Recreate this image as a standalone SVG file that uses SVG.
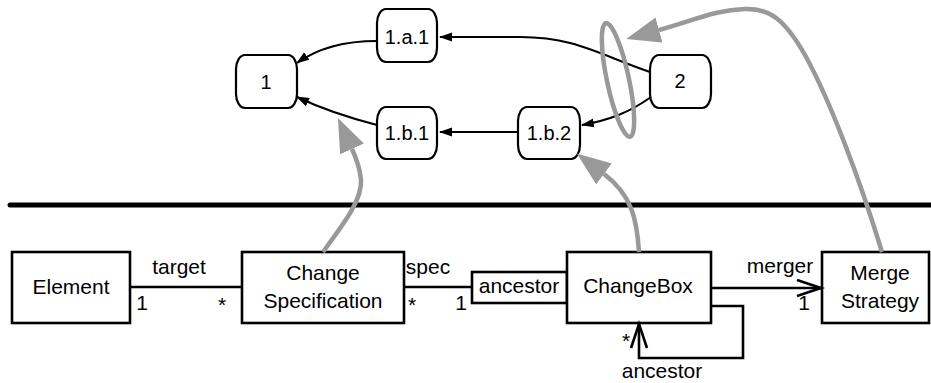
<svg xmlns="http://www.w3.org/2000/svg" width="931" height="383" viewBox="0 0 931 383">
<style>
text{font-family:"Liberation Sans",Arial,Helvetica,sans-serif;fill:#000}
.n text{font-size:20px;text-anchor:middle}
.n rect{fill:#fff;stroke:#000;stroke-width:2.2}
.u rect{fill:#fff;stroke:#000;stroke-width:2.6}
.u text,.lbl{font-size:21px}
.u text{text-anchor:middle}
.e{fill:none;stroke:#000;stroke-width:2;marker-end:url(#ah)}
.a{fill:none;stroke:#000;stroke-width:2.6}
.g{fill:none;stroke:#999;stroke-width:4.5}
.gm{marker-end:url(#gh)}
</style>
<defs>
<marker id="ah" markerUnits="userSpaceOnUse" markerWidth="13" markerHeight="10" viewBox="0 0 13 10" refX="12" refY="5" orient="auto">
<path d="M0,0.5 L13,5 L0,9.5 Z" fill="#000"/>
</marker>
<marker id="gh" markerUnits="userSpaceOnUse" markerWidth="34" markerHeight="26" viewBox="0 0 34 26" refX="0" refY="13" orient="auto">
<path d="M0,0 L34,13 L0,26 Z" fill="#999"/>
</marker>
</defs>

<g id="versions">
<g id="v1" class="n"><rect x="236" y="55" width="61" height="53" rx="9" ry="14"/><text x="266" y="89">1</text></g>
<g id="v1a1" class="n"><rect x="377" y="9" width="60" height="53" rx="9" ry="14"/><text x="407" y="44">1.a.1</text></g>
<g id="v1b1" class="n"><rect x="377" y="107" width="60" height="52" rx="9" ry="14"/><text x="407" y="140">1.b.1</text></g>
<g id="v1b2" class="n"><rect x="518" y="107" width="62" height="52" rx="9" ry="14"/><text x="549" y="140">1.b.2</text></g>
<g id="v2" class="n"><rect x="650" y="55" width="61" height="53" rx="9" ry="14"/><text x="680" y="88">2</text></g>
</g>

<g id="version-edges">
<path class="e" d="M377,41 C345,41 318,48 297,63"/>
<path class="e" d="M377,125 C350,118 320,108 297,97"/>
<path class="e" d="M518,132 L440,132"/>
<path class="e" d="M650,72 C600,55 575,37 520,37 L440,37"/>
<path class="e" d="M651,97 C630,112 610,120 582,125"/>
</g>

<g id="separator">
<line x1="10" y1="205" x2="931" y2="205" stroke="#000" stroke-width="5" stroke-linecap="round"/>
</g>

<g id="element" class="u"><rect x="12" y="252" width="118" height="71"/><text x="71" y="294">Element</text></g>
<g id="changespec" class="u"><rect x="242" y="252" width="162" height="71"/><text x="323" y="280">Change</text><text x="323" y="308">Specification</text></g>
<g id="qualifier" class="u"><rect x="472" y="272" width="95" height="31"/><text x="519" y="293">ancestor</text></g>
<g id="changebox" class="u"><rect x="567" y="252" width="144" height="71"/><text x="638" y="293">ChangeBox</text></g>
<g id="mergestrategy" class="u"><rect x="822" y="252" width="107" height="71"/><text x="880" y="280">Merge</text><text x="880" y="308">Strategy</text></g>

<g id="associations">
<line class="a" x1="130" y1="287" x2="242" y2="287"/>
<line class="a" x1="404" y1="287" x2="472" y2="287"/>
<line class="a" x1="711" y1="288" x2="821" y2="288"/>
<path class="a" d="M797,280 L821,288 L797,296"/>
<path class="a" d="M711,306 H743 V358 H639 V324"/>
<path class="a" d="M631,348 L639,324 L647,348"/>
<text class="lbl" x="179" y="274" text-anchor="middle">target</text>
<text class="lbl" x="142" y="310" text-anchor="middle">1</text>
<text class="lbl" x="222" y="312" text-anchor="middle">*</text>
<text class="lbl" x="428" y="274" text-anchor="middle">spec</text>
<text class="lbl" x="412" y="312" text-anchor="middle">*</text>
<text class="lbl" x="461" y="310" text-anchor="middle">1</text>
<text class="lbl" x="780" y="273" text-anchor="middle">merger</text>
<text class="lbl" x="804" y="310" text-anchor="middle">1</text>
<text class="lbl" x="626" y="348" text-anchor="middle">*</text>
<text class="lbl" x="662" y="378" text-anchor="middle">ancestor</text>
</g>

<g id="mapping">
<ellipse class="g" cx="618" cy="80" rx="11" ry="58" transform="rotate(-12 618 80)"/>
<path class="g gm" d="M323,252 C345,222 362,200 361,180 C360,168 357,160 352,149"/>
<path class="g gm" d="M639,252 C637,220 632,195 604,174"/>
<path class="g gm" d="M882,252 C860,180 830,100 805,55 C785,20 770,8 745,9 C715,10 695,20 659,30"/>
</g>
</svg>
